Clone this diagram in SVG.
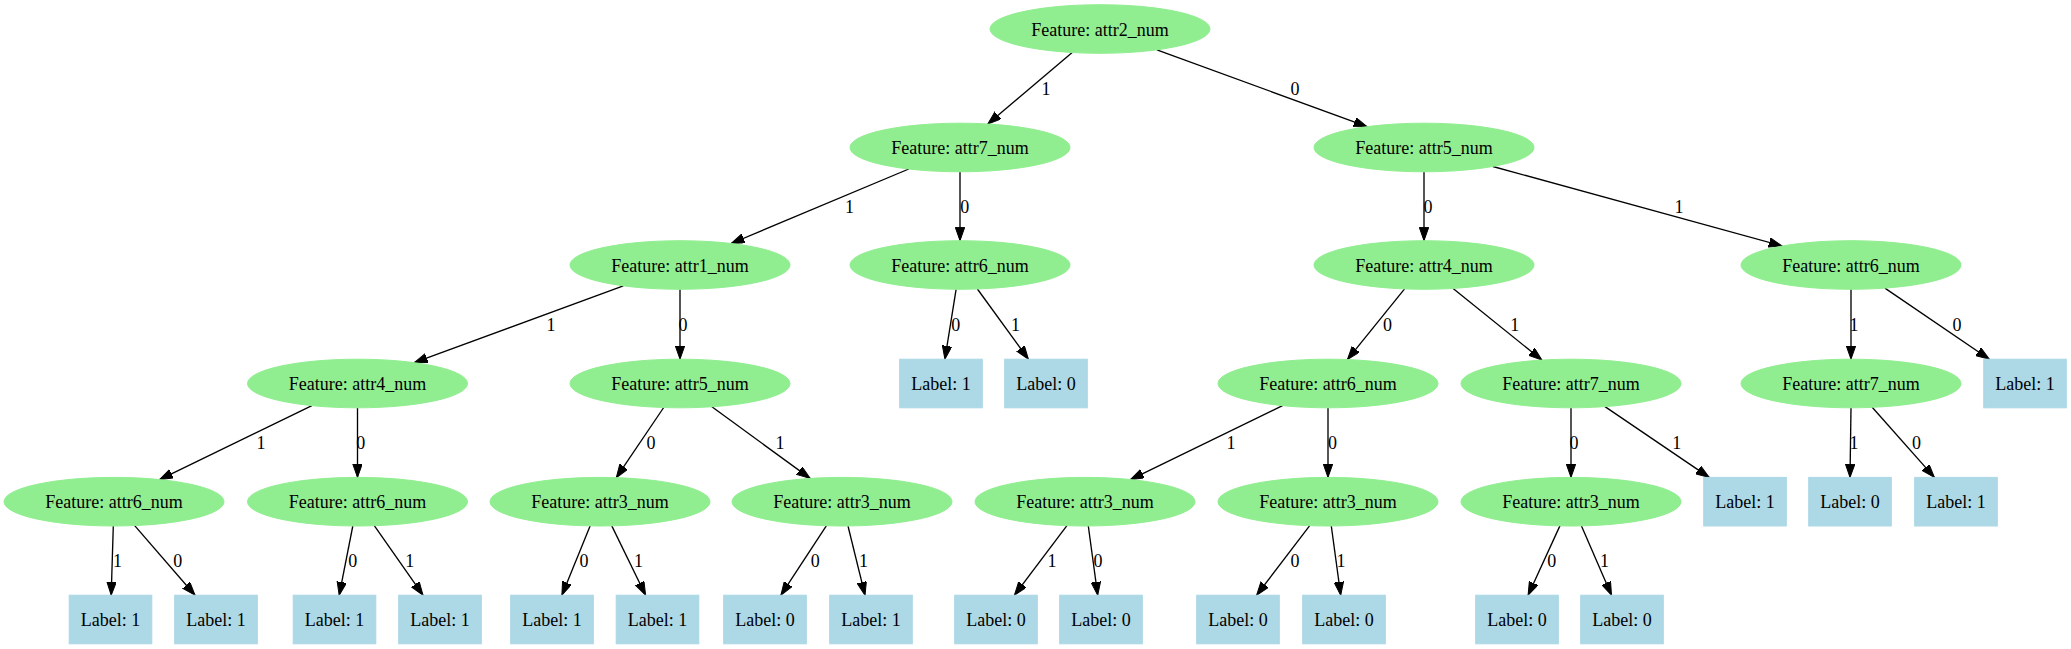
<svg xmlns="http://www.w3.org/2000/svg" width="2071" height="649" viewBox="0 0 2071 649">
<style>
.f ellipse{fill:#90ee90;stroke:#90ee90}
.l rect{fill:#add8e6;stroke:#add8e6}
text{font-family:"Liberation Serif","Times New Roman",serif;font-size:18px;fill:#000;text-anchor:middle}
#edges line{stroke:#000;stroke-width:1.33;marker-end:url(#arr)}
</style>
<defs>
<marker id="arr" markerUnits="userSpaceOnUse" markerWidth="14" markerHeight="10" refX="13.3" refY="4.7" orient="auto" viewBox="0 0 14 10">
<path d="M0,0 L13.3,4.7 L0,9.4 z" fill="#000" stroke="#000" stroke-width="1"/>
</marker>
</defs>
<rect width="2071" height="649" fill="#fff"/>
<g id="edges">
<line x1="1072.2" y1="52.5" x2="987.8" y2="124"/>
<line x1="1156.9" y1="49.8" x2="1367.1" y2="126.7"/>
<line x1="908.8" y1="169" x2="731.2" y2="243.5"/>
<line x1="960" y1="171.8" x2="960" y2="240.7"/>
<line x1="1424" y1="171.8" x2="1424" y2="240.7"/>
<line x1="1492.9" y1="166.5" x2="1782.1" y2="246"/>
<line x1="623.3" y1="285.8" x2="414.2" y2="362.7"/>
<line x1="680" y1="289.3" x2="680" y2="359.2"/>
<line x1="956.1" y1="289.3" x2="944.9" y2="359.2"/>
<line x1="977.4" y1="289" x2="1028.4" y2="359.2"/>
<line x1="1404.6" y1="288.9" x2="1347.4" y2="359.6"/>
<line x1="1453.1" y1="288.4" x2="1541.9" y2="360.1"/>
<line x1="1851" y1="289.3" x2="1851" y2="359.2"/>
<line x1="1884.9" y1="288.1" x2="1989.3" y2="359.2"/>
<line x1="311.9" y1="405.6" x2="159.6" y2="479.6"/>
<line x1="357.5" y1="407.8" x2="357.5" y2="477.4"/>
<line x1="663.7" y1="407.5" x2="616.3" y2="477.7"/>
<line x1="711.9" y1="406.8" x2="810.1" y2="478.4"/>
<line x1="1282.5" y1="405.6" x2="1130.5" y2="479.6"/>
<line x1="1328" y1="407.8" x2="1328" y2="477.4"/>
<line x1="1571" y1="407.8" x2="1571" y2="477.4"/>
<line x1="1605" y1="406.6" x2="1709.2" y2="477.4"/>
<line x1="1851" y1="407.8" x2="1850" y2="477.4"/>
<line x1="1872.2" y1="407.3" x2="1934.4" y2="477.4"/>
<line x1="113.3" y1="526" x2="111.2" y2="595.2"/>
<line x1="134.7" y1="525.6" x2="195" y2="595.2"/>
<line x1="352.8" y1="526" x2="339.2" y2="595.2"/>
<line x1="374.3" y1="525.7" x2="423" y2="595.2"/>
<line x1="590.1" y1="525.9" x2="561.9" y2="595.2"/>
<line x1="611.8" y1="525.9" x2="645.6" y2="595.2"/>
<line x1="826.3" y1="525.8" x2="780.9" y2="595.2"/>
<line x1="848" y1="526" x2="865" y2="595.2"/>
<line x1="1066.9" y1="525.7" x2="1014.4" y2="595.2"/>
<line x1="1088.3" y1="526" x2="1097.7" y2="595.2"/>
<line x1="1309.7" y1="525.7" x2="1256.6" y2="595.2"/>
<line x1="1331.3" y1="526" x2="1340.7" y2="595.2"/>
<line x1="1559.9" y1="525.9" x2="1528.1" y2="595.2"/>
<line x1="1581.5" y1="525.9" x2="1611.5" y2="595.2"/>
<text x="1046" y="95">1</text>
<text x="1295" y="95">0</text>
<text x="849.6" y="213">1</text>
<text x="964.7" y="213">0</text>
<text x="1428" y="213">0</text>
<text x="1679" y="213">1</text>
<text x="551" y="331">1</text>
<text x="683" y="331">0</text>
<text x="955.8" y="331">0</text>
<text x="1015.6" y="331">1</text>
<text x="1387.5" y="331">0</text>
<text x="1514.7" y="331">1</text>
<text x="1854" y="331">1</text>
<text x="1957" y="331">0</text>
<text x="261" y="449">1</text>
<text x="360.7" y="449">0</text>
<text x="651" y="449">0</text>
<text x="780" y="449">1</text>
<text x="1231" y="449">1</text>
<text x="1332.6" y="449">0</text>
<text x="1574" y="449">0</text>
<text x="1676.8" y="449">1</text>
<text x="1854" y="449">1</text>
<text x="1916.5" y="449">0</text>
<text x="117.4" y="567">1</text>
<text x="177.7" y="567">0</text>
<text x="352.7" y="567">0</text>
<text x="409.8" y="567">1</text>
<text x="584" y="567">0</text>
<text x="638.4" y="567">1</text>
<text x="815.2" y="567">0</text>
<text x="863.4" y="567">1</text>
<text x="1052" y="567">1</text>
<text x="1098" y="567">0</text>
<text x="1295" y="567">0</text>
<text x="1341" y="567">1</text>
<text x="1551.8" y="567">0</text>
<text x="1604.5" y="567">1</text>
</g>
<g id="n0" class="f"><ellipse cx="1100" cy="29" rx="110" ry="24.3"/><text x="1100" y="35.5">Feature: attr2_num</text></g>
<g id="n1" class="f"><ellipse cx="960" cy="147.5" rx="110" ry="24.3"/><text x="960" y="154">Feature: attr7_num</text></g>
<g id="n2" class="f"><ellipse cx="1424" cy="147.5" rx="110" ry="24.3"/><text x="1424" y="154">Feature: attr5_num</text></g>
<g id="n3" class="f"><ellipse cx="680" cy="265" rx="110" ry="24.3"/><text x="680" y="271.5">Feature: attr1_num</text></g>
<g id="n4" class="f"><ellipse cx="960" cy="265" rx="110" ry="24.3"/><text x="960" y="271.5">Feature: attr6_num</text></g>
<g id="n5" class="f"><ellipse cx="1424" cy="265" rx="110" ry="24.3"/><text x="1424" y="271.5">Feature: attr4_num</text></g>
<g id="n6" class="f"><ellipse cx="1851" cy="265" rx="110" ry="24.3"/><text x="1851" y="271.5">Feature: attr6_num</text></g>
<g id="n7" class="f"><ellipse cx="357.5" cy="383.5" rx="110" ry="24.3"/><text x="357.5" y="390">Feature: attr4_num</text></g>
<g id="n8" class="f"><ellipse cx="680" cy="383.5" rx="110" ry="24.3"/><text x="680" y="390">Feature: attr5_num</text></g>
<g id="n9" class="l"><rect x="899.7" y="359.2" width="82.6" height="48.6"/><text x="941" y="390">Label: 1</text></g>
<g id="n10" class="l"><rect x="1004.7" y="359.2" width="82.6" height="48.6"/><text x="1046" y="390">Label: 0</text></g>
<g id="n11" class="f"><ellipse cx="1328" cy="383.5" rx="110" ry="24.3"/><text x="1328" y="390">Feature: attr6_num</text></g>
<g id="n12" class="f"><ellipse cx="1571" cy="383.5" rx="110" ry="24.3"/><text x="1571" y="390">Feature: attr7_num</text></g>
<g id="n13" class="f"><ellipse cx="1851" cy="383.5" rx="110" ry="24.3"/><text x="1851" y="390">Feature: attr7_num</text></g>
<g id="n14" class="l"><rect x="1983.7" y="359.2" width="82.6" height="48.6"/><text x="2025" y="390">Label: 1</text></g>
<g id="n15" class="f"><ellipse cx="114" cy="501.7" rx="110" ry="24.3"/><text x="114" y="508.2">Feature: attr6_num</text></g>
<g id="n16" class="f"><ellipse cx="357.5" cy="501.7" rx="110" ry="24.3"/><text x="357.5" y="508.2">Feature: attr6_num</text></g>
<g id="n17" class="f"><ellipse cx="600" cy="501.7" rx="110" ry="24.3"/><text x="600" y="508.2">Feature: attr3_num</text></g>
<g id="n18" class="f"><ellipse cx="842" cy="501.7" rx="110" ry="24.3"/><text x="842" y="508.2">Feature: attr3_num</text></g>
<g id="n19" class="f"><ellipse cx="1085" cy="501.7" rx="110" ry="24.3"/><text x="1085" y="508.2">Feature: attr3_num</text></g>
<g id="n20" class="f"><ellipse cx="1328" cy="501.7" rx="110" ry="24.3"/><text x="1328" y="508.2">Feature: attr3_num</text></g>
<g id="n21" class="f"><ellipse cx="1571" cy="501.7" rx="110" ry="24.3"/><text x="1571" y="508.2">Feature: attr3_num</text></g>
<g id="n22" class="l"><rect x="1703.7" y="477.4" width="82.6" height="48.6"/><text x="1745" y="508.2">Label: 1</text></g>
<g id="n23" class="l"><rect x="1808.7" y="477.4" width="82.6" height="48.6"/><text x="1850" y="508.2">Label: 0</text></g>
<g id="n24" class="l"><rect x="1914.7" y="477.4" width="82.6" height="48.6"/><text x="1956" y="508.2">Label: 1</text></g>
<g id="n25" class="l"><rect x="69.2" y="595.2" width="82.6" height="48.6"/><text x="110.5" y="626">Label: 1</text></g>
<g id="n26" class="l"><rect x="174.7" y="595.2" width="82.6" height="48.6"/><text x="216" y="626">Label: 1</text></g>
<g id="n27" class="l"><rect x="293.2" y="595.2" width="82.6" height="48.6"/><text x="334.5" y="626">Label: 1</text></g>
<g id="n28" class="l"><rect x="398.7" y="595.2" width="82.6" height="48.6"/><text x="440" y="626">Label: 1</text></g>
<g id="n29" class="l"><rect x="510.7" y="595.2" width="82.6" height="48.6"/><text x="552" y="626">Label: 1</text></g>
<g id="n30" class="l"><rect x="616.2" y="595.2" width="82.6" height="48.6"/><text x="657.5" y="626">Label: 1</text></g>
<g id="n31" class="l"><rect x="723.7" y="595.2" width="82.6" height="48.6"/><text x="765" y="626">Label: 0</text></g>
<g id="n32" class="l"><rect x="829.7" y="595.2" width="82.6" height="48.6"/><text x="871" y="626">Label: 1</text></g>
<g id="n33" class="l"><rect x="954.7" y="595.2" width="82.6" height="48.6"/><text x="996" y="626">Label: 0</text></g>
<g id="n34" class="l"><rect x="1059.7" y="595.2" width="82.6" height="48.6"/><text x="1101" y="626">Label: 0</text></g>
<g id="n35" class="l"><rect x="1196.7" y="595.2" width="82.6" height="48.6"/><text x="1238" y="626">Label: 0</text></g>
<g id="n36" class="l"><rect x="1302.7" y="595.2" width="82.6" height="48.6"/><text x="1344" y="626">Label: 0</text></g>
<g id="n37" class="l"><rect x="1475.7" y="595.2" width="82.6" height="48.6"/><text x="1517" y="626">Label: 0</text></g>
<g id="n38" class="l"><rect x="1580.7" y="595.2" width="82.6" height="48.6"/><text x="1622" y="626">Label: 0</text></g>
</svg>
